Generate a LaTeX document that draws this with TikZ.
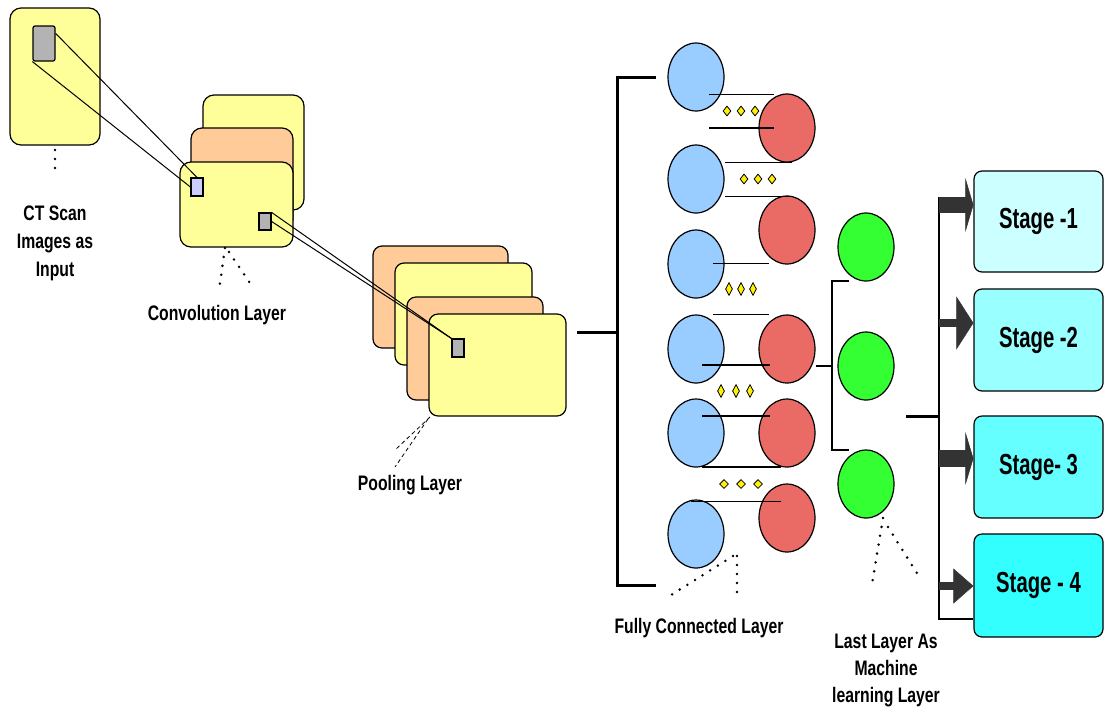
\documentclass[tikz,border=0pt]{standalone}
\usepackage{fontspec}
\usepackage{tikz}
\usetikzlibrary{shapes.geometric,arrows.meta,calc}
\newfontfamily\lblfont[FakeStretch=0.75]{Liberation Sans}
\newfontfamily\stagefont[FakeStretch=0.7]{Liberation Sans}

\definecolor{layeryellow}{HTML}{FFFF99}
\definecolor{layerorange}{HTML}{FFCC99}
\definecolor{pixgray}{HTML}{B3B3B3}
\definecolor{pixlav}{HTML}{CCCCFF}
\definecolor{fcblue}{HTML}{99CCFF}
\definecolor{fcred}{HTML}{EA6B66}
\definecolor{mlgreen}{HTML}{33FF33}
\definecolor{arrowgray}{HTML}{333333}
\definecolor{stageA}{HTML}{CCFFFF}
\definecolor{stageB}{HTML}{99FFFF}
\definecolor{stageC}{HTML}{66FFFF}
\definecolor{stageD}{HTML}{33FFFF}

\begin{document}
\begin{tikzpicture}
	[x=1pt,y=-1pt,line width=1.2pt,
	 layer/.style={draw,rounded corners=11pt,minimum width=#1},
	 pix/.style={draw,fill=pixgray,rounded corners=2pt,inner sep=0pt},
	 neuron/.style={ellipse,draw,inner sep=0pt,minimum width=56pt,minimum height=68pt},
	 dots/.style={fill=yellow,draw,diamond,inner sep=0pt,line width=0.8pt},
	 fcline/.style={line width=0.9pt},
	 bracket/.style={line width=3pt},
	 note/.style={line width=2.8pt,line cap=round,dash pattern=on 0pt off 9pt},
	 lbl/.style={font=\lblfont\bfseries\fontsize{21}{28}\selectfont,align=center},
	 stage/.style={draw,rounded corners=8pt,minimum width=129pt,inner sep=0pt,
	   font=\stagefont\bfseries\fontsize{29}{32}\selectfont}]
	\useasboundingbox (0,0) rectangle (1105,713);

	% input image
	\node[layer=90pt,fill=layeryellow,minimum height=137pt] (inimg) at (55,76.5) {};
	\node[pix,minimum width=22pt,minimum height=35pt] (inpix) at (44,43.5) {};
	\node[lbl] (inlbl) at (55,243) {CT Scan\\Images as\\Input};

	% convolution layer
	\node[layer=101pt,fill=layeryellow,minimum height=115pt] (conv3) at (253.5,152.5) {};
	\node[layer=102pt,fill=layerorange,minimum height=102pt] (conv2) at (242,179) {};
	\node[layer=113pt,fill=layeryellow,minimum height=85pt] (conv1) at (236.5,204.5) {};
	\node[pix,fill=pixlav,rounded corners=0pt,minimum width=12pt,minimum height=18pt] (convpix) at (197,187) {};
	\node[pix,rounded corners=0pt,minimum width=12pt,minimum height=17pt] (convout) at (265,221.5) {};
	\node[lbl] (convlbl) at (217,315) {Convolution Layer};

	% pooling layer
	\node[layer=135pt,fill=layerorange,minimum height=102pt,rounded corners=9pt] (pool4) at (440.5,297) {};
	\node[layer=137pt,fill=layeryellow,minimum height=102pt,rounded corners=9pt] (pool3) at (463.5,314) {};
	\node[layer=136pt,fill=layerorange,minimum height=103pt,rounded corners=9pt] (pool2) at (475,348.5) {};
	\node[layer=137pt,fill=layeryellow,minimum height=102pt,rounded corners=9pt] (pool1) at (497.5,365) {};
	\node[pix,rounded corners=0pt,minimum width=12pt,minimum height=18pt] (poolpix) at (458,348) {};
	\node[lbl] (poollbl) at (410,485) {Pooling Layer};

	\draw[line width=1pt] (inpix.north east) ++(0,8) -- (convpix.north);
	\draw[line width=1pt] (inpix.south west) -- (convpix.west);
	\draw[line width=1pt] (convout.north east) -- (poolpix.north west);
	\draw[line width=1pt] (convout.east) -- (poolpix.north west);

	% fully connected layer
	\foreach \n/\y in {1/77,2/179,3/264,4/349,5/433,6/534}
		\node[neuron,fill=fcblue] (b\n) at (696,\y) {};
	\foreach \n/\y in {1/128,2/230,3/349,4/433,5/518}
		\node[neuron,fill=fcred] (r\n) at (787,\y) {};

	\draw[fcline] (b1.center) ++(13,17) -- ++(65,0);
	\draw[fcline,line width=1.6pt] (b1.center) ++(13,51) -- ++(65,0);
	\draw[fcline] (b2.center) ++(29,-17) -- ++(67,0);
	\draw[fcline] (b2.center) ++(29,17) -- ++(67,0);
	\draw[fcline] (b3.center) ++(17,-1) -- ++(56,0);
	\draw[fcline] (b4.center) ++(17,-35) -- ++(56,0);
	\draw[fcline,line width=1.6pt] (b4.center) ++(6,16) -- ++(68,0);
	\draw[fcline,line width=1.6pt] (b5.center) ++(6,-17) -- ++(68,0);
	\draw[fcline,line width=1.6pt] (b5.center) ++(6,34) -- ++(79,0);
	\draw[fcline] (b6.center) ++(-5,-33) -- ++(90,0);

	\foreach \x in {727,741,755} \node[dots,minimum width=8pt,minimum height=10pt] at (\x,111) {};
	\foreach \x in {744,758,772} \node[dots,minimum width=8pt,minimum height=10pt] at (\x,179) {};
	\foreach \x in {729,741,753} \node[dots,minimum width=7pt,minimum height=13pt] at (\x,289) {};
	\foreach \x in {721,736,750} \node[dots,minimum width=7pt,minimum height=13pt] at (\x,391) {};
	\foreach \x in {724,741,758} \node[dots,minimum width=9pt,minimum height=9pt] at (\x,484) {};

	\coordinate (fcin) at (577,332);
	\coordinate (fctop) at (656,77);
	\coordinate (fcbot) at (656,585);
	\draw[bracket] (fcin) -- (fcin -| 617,0);
	\draw[bracket] (fctop) -- (617,77) -- (617,585) -- (fcbot);
	\node[lbl] (fclbl) at (699,628) {Fully Connected Layer};

	% last layer
	\foreach \n/\y in {1/247,2/366,3/484}
		\node[neuron,fill=mlgreen] (g\n) at (866,\y) {};
	\draw[line width=2.5pt] (r4.east |- 0,366) -- (832,366);
	\draw[line width=2.5pt] (849,281) -- (832,281) -- (832,450) -- (849,450);
	\node[lbl,font=\lblfont\bfseries\fontsize{21}{27}\selectfont] (mllbl) at (886,670) {Last Layer As\\Machine\\learning Layer};

	% stages
	\node[stage,fill=stageA,minimum height=101pt] (s1) at (1038.5,221.5) {Stage -1};
	\node[stage,fill=stageB,minimum height=102pt] (s2) at (1038.5,340) {Stage -2};
	\node[stage,fill=stageC,minimum height=102pt] (s3) at (1038.5,467) {Stage- 3};
	\node[stage,fill=stageD,minimum height=103pt] (s4) at (1038.5,585.5) {Stage - 4};

	\coordinate (bus) at (939,416);
	\coordinate (bus1) at (939,205);
	\coordinate (bus2) at (939,323);
	\coordinate (bus3) at (939,458.5);
	\coordinate (bus4) at (939,586);
	\coordinate (bus5) at (939,619);
	\draw[bracket] (906,416) -- (bus);
	\draw[line width=2.5pt] (939,197) -- (bus5) -- (bus5 -| s4.west);
	\draw[line width=16pt,draw=arrowgray,-{Triangle[length=8pt,width=54pt,line width=0.5pt]}] (bus1) -- (bus1 -| s1.west);
	\draw[line width=8pt,draw=arrowgray,-{Triangle[length=17pt,width=53pt,line width=0.5pt]}] (bus2) -- (bus2 -| s2.west);
	\draw[line width=17pt,draw=arrowgray,-{Triangle[length=8pt,width=53pt,line width=0.5pt]}] (bus3) -- (bus3 -| s3.west);
	\draw[line width=8pt,draw=arrowgray,-{Triangle[length=20pt,width=35pt,line width=0.5pt]}] (bus4) -- (bus4 -| s4.west);

	% dotted pointers
	\draw[note] (55,150) -- (55,176);
	\draw[note] (225,248) -- (219,290);
	\draw[note] (229,252) -- (252,286);
	\draw[line width=0.8pt,dash pattern=on 4pt off 3pt] (430,417) -- (395,450);
	\draw[line width=0.8pt,dash pattern=on 4pt off 3pt] (428,419) -- (395,467);
	\draw[note] (733,556) -- (668,597);
	\draw[note] (737,556) -- (737,597);
	\draw[note] (883,518) -- (872,584);
	\draw[note] (888,527) -- (920,578);
\end{tikzpicture}
\end{document}
